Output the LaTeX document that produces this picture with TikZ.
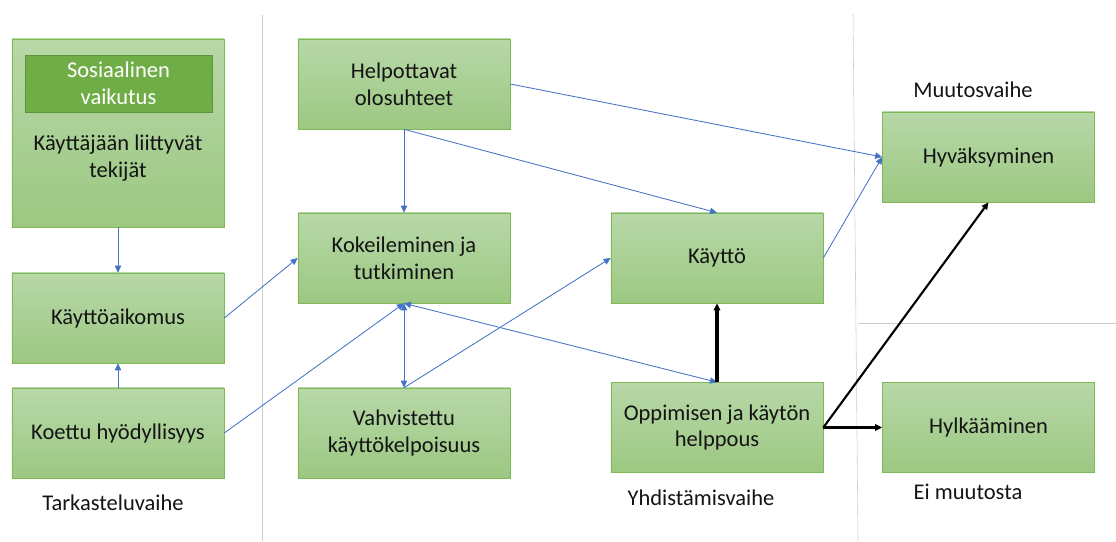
\documentclass[tikz,border=0pt]{standalone}
\usepackage{fontspec}
\setmainfont{Carlito}
\usetikzlibrary{arrows.meta}
\definecolor{boxtop}{RGB}{184,216,168}
\definecolor{boxbottom}{RGB}{156,200,130}
\definecolor{boxline}{RGB}{126,185,86}
\definecolor{socialfill}{RGB}{112,173,71}
\definecolor{socialline}{RGB}{90,150,55}
\definecolor{linkblue}{RGB}{68,114,196}
\definecolor{rulegrey}{RGB}{205,205,205}
\definecolor{inktext}{RGB}{20,20,20}
\tikzset{
  phasebox/.style={draw=boxline,top color=boxtop,bottom color=boxbottom,minimum width=5.3cm,minimum height=2.25cm,align=center,text=inktext,font=\fontsize{16}{19}\selectfont},
  phasename/.style={align=center,text=inktext,font=\fontsize{16}{19}\selectfont},
  link/.style={->,draw=linkblue,line width=0.6pt},
  mainlink/.style={->,line width=1.5pt}
}
\begin{document}
\begin{tikzpicture}[x=0.025cm,y=-0.025cm,>={Triangle[length=5pt,width=4.5pt]}]
\useasboundingbox (0,0) rectangle (1116,541);
% phase separators
\draw[rulegrey] (262,15) -- (262,541);
\draw[rulegrey] (853,14) -- (858,541);
\draw[rulegrey] (858,323) -- (1116,323);

% Tarkasteluvaihe
\node[phasebox,minimum height=4.7cm] (user) at (118,133) {};
\node[draw=socialline,fill=socialfill,minimum width=4.675cm,minimum height=1.425cm,align=center,text=white,font=\fontsize{16}{19}\selectfont] (social) at (118.5,83.5) {Sosiaalinen\\vaikutus};
\node[phasename] (userfactors) at (118,158) {Käyttäjään liittyvät\\tekijät};
\node[phasebox] (intent) at (118,318) {Käyttöaikomus};
\node[phasebox] (useful) at (118,433) {Koettu hyödyllisyys};
\node[phasename] (phase1) at (113,503) {Tarkasteluvaihe};

% Yhdistämisvaihe
\node[phasebox] (facil) at (404,84) {Helpottavat\\olosuhteet};
\node[phasebox] (trial) at (404,258) {Kokeileminen ja\\tutkiminen};
\node[phasebox] (confirm) at (404,433) {Vahvistettu\\käyttökelpoisuus};
\node[phasebox] (use) at (717,258) {Käyttö};
\node[phasebox] (ease) at (717,427.5) {Oppimisen ja käytön\\helppous};
\node[phasename] (phase2) at (701,498) {Yhdistämisvaihe};

% Muutosvaihe
\node[phasebox] (accept) at (988.5,157) {Hyväksyminen};
\node[phasebox] (reject) at (988.5,427.5) {Hylkääminen};
\node[phasename] (phase3) at (973,90) {Muutosvaihe};
\node[phasename] (nochange) at (968,492) {Ei muutosta};

\draw[link] (user) -- (intent);
\draw[link] (useful) -- (intent);
\draw[link] (intent.east) -- (trial.west);
\draw[link] (useful.east) -- (trial.south);
\draw[link] (facil) -- (trial);
\draw[link] (facil.south) -- (use.north);
\draw[link] (facil.east) -- (accept.west);
\draw[link,<->] (trial.south) -- (confirm.north);
\draw[link] (confirm.north) -- (use.west);
\draw[link,<->] (trial.south) -- (ease.north);
\draw[link] (use.east) -- (accept.west);
\draw[mainlink,line width=2.2pt] (ease) -- (use);
\draw[mainlink] (ease.east) -- (accept.south);
\draw[mainlink] (ease.east) -- (reject.west);
\end{tikzpicture}
\end{document}
